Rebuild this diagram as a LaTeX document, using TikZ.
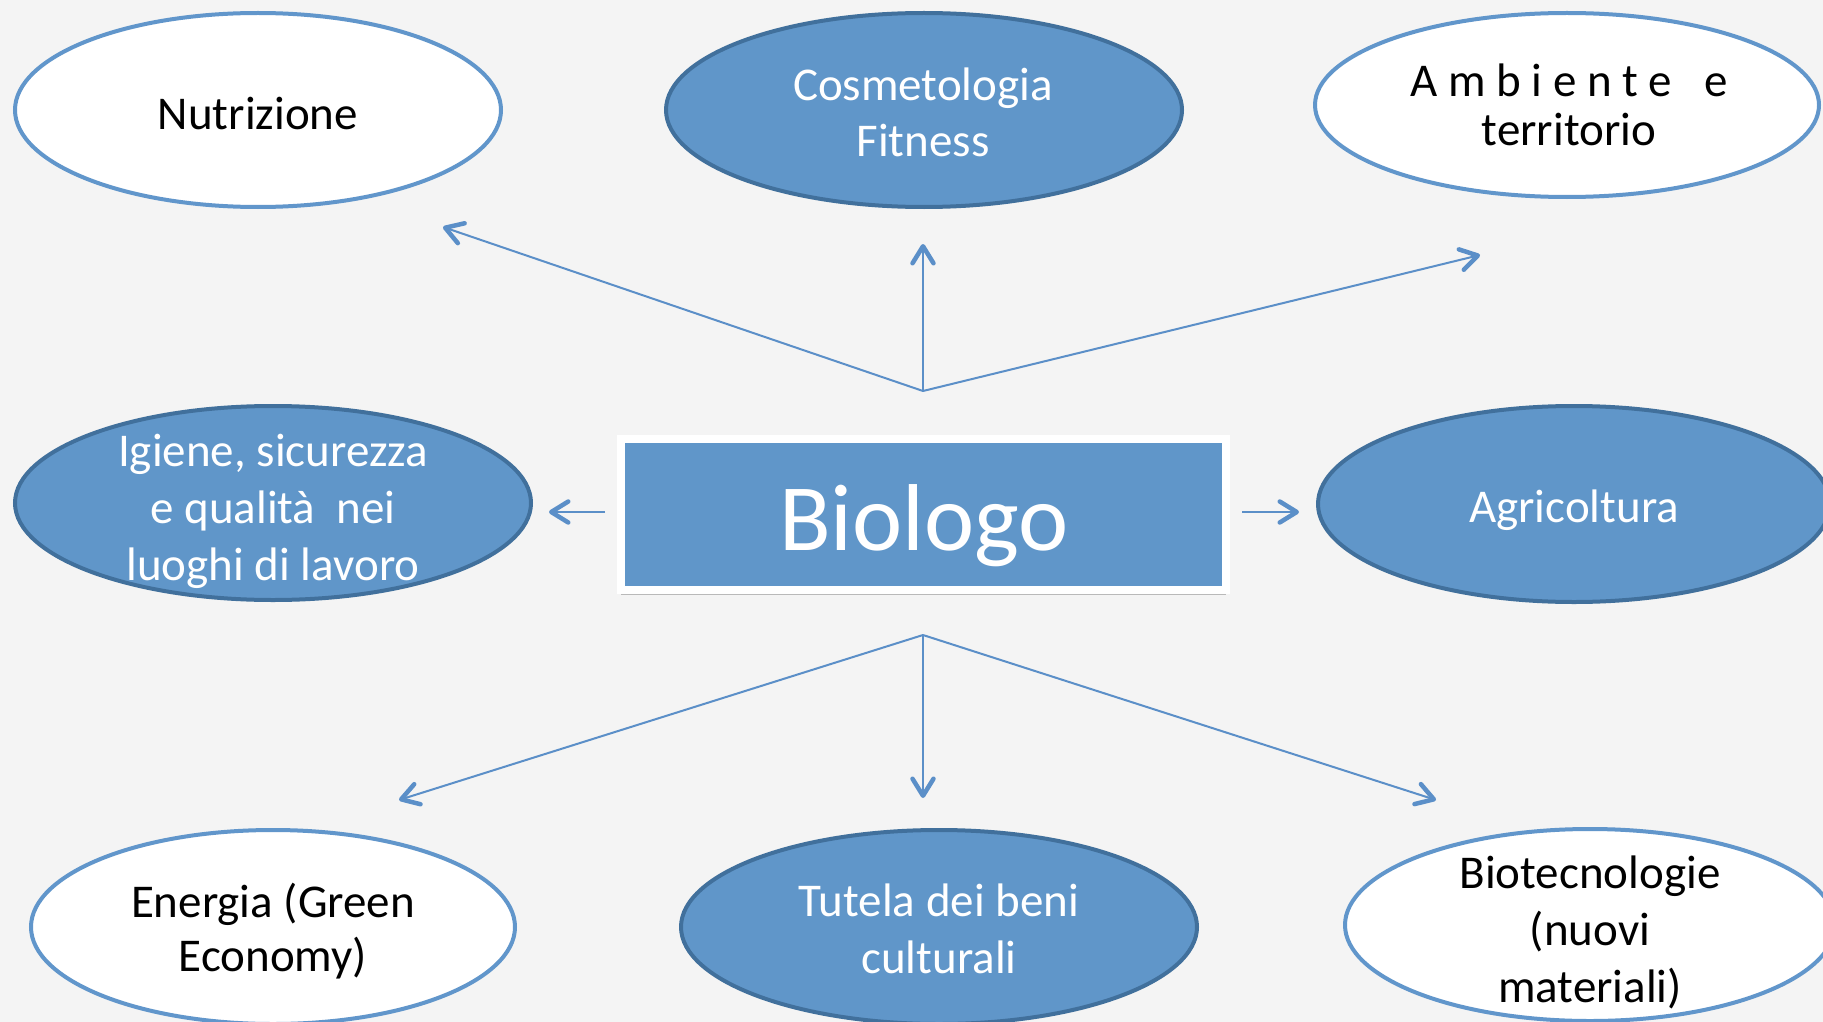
\documentclass[tikz,border=0pt]{standalone}
\usepackage{fontspec}
\setmainfont{Carlito}
\usetikzlibrary{shapes.geometric,arrows.meta,shadows}
\definecolor{bg}{HTML}{F4F4F4}
\definecolor{bluefill}{HTML}{6096C9}
\definecolor{darkedge}{HTML}{41709C}
\definecolor{lightedge}{HTML}{6196CB}
\definecolor{arrowc}{HTML}{5B8FC8}
\begin{document}
\begin{tikzpicture}[x=1pt,y=-1pt,
  ell/.style={ellipse, inner sep=0pt},
  lightell/.style={ell, draw=lightedge, line width=4pt, fill=white},
  darkell/.style={ell, draw=darkedge, line width=4pt, fill=bluefill},
  txt/.style={align=center, inner sep=0pt, font=\fontsize{47}{56}\selectfont},
  wtxt/.style={txt, text=white},
  btxt/.style={txt, text=black},
  arr/.style={draw=arrowc, line width=2pt, -{Straight Barb[length=17pt,width=21pt,line width=4.5pt,round]}},
  hubbox/.style={rectangle, fill=bluefill, draw=white, line width=8pt, minimum width=605pt, minimum height=151pt, inner sep=0pt,
     drop shadow={shadow xshift=0pt, shadow yshift=-5pt, opacity=0.45, fill=black!55}}
]
\useasboundingbox[fill=bg] (0,0) rectangle (1823,1022);

% ellipses
\node[lightell, minimum width=486pt, minimum height=194pt] (nutr) at (258,110) {};
\node[darkell,  minimum width=516pt, minimum height=194pt] (cosm) at (924,110) {};
\node[lightell, minimum width=504pt, minimum height=184pt] (amb) at (1567,105) {};
\node[darkell,  minimum width=516pt, minimum height=194pt] (igi) at (273,503) {};
\node[darkell,  minimum width=512pt, minimum height=196pt] (agri) at (1574,504) {};
\node[lightell, minimum width=484pt, minimum height=194pt] (ene) at (273,927) {};
\node[darkell,  minimum width=516pt, minimum height=194pt] (tut) at (939,927) {};
\node[lightell, minimum width=490pt, minimum height=192pt] (bio) at (1590,925) {};

% texts
\node[btxt] (tnutr) at (258,114) {Nutrizione};
\node[wtxt, font=\fontsize{47}{56}\selectfont] (tcosm) at (923,112) {Cosmetologia\\Fitness};
\node[btxt, font=\fontsize{47}{49}\selectfont] (tamb) at (1569,105) {A m b i e n t e\hspace{32pt}e\\territorio};
\node[wtxt, font=\fontsize{47}{57}\selectfont] (tigi) at (273,511) {Igiene, sicurezza\\e qualità\ \ nei\\luoghi di lavoro};
\node[wtxt] (tagri) at (1574,510) {Agricoltura};
\node[btxt, font=\fontsize{47}{54}\selectfont] (tene) at (273,931) {Energia (Green\\Economy)};
\node[wtxt, font=\fontsize{47}{57}\selectfont] (ttut) at (939,929) {Tutela dei beni\\culturali};
\node[btxt, font=\fontsize{47}{57}\selectfont] (tbio) at (1590,932) {Biotecnologie\\(nuovi\\materiali)};

% central box
\node[hubbox] (biologo) at (923,514) {};
\node[wtxt, font=\fontsize{95}{100}\selectfont] (tbiologo) at (924,526) {Biologo};

% connector points
\coordinate (hubT) at (923,391);
\coordinate (hubB) at (923,635);
\coordinate (endN) at (443,227);
\coordinate (endC) at (923,244);
\coordinate (endA) at (1480,255);
\coordinate (endE) at (399,800);
\coordinate (endT) at (923,798);
\coordinate (endB) at (1436,800);
\coordinate (startL) at (605,512);
\coordinate (endL) at (549,512);
\coordinate (startR) at (1242,512);
\coordinate (endR) at (1299,512);

\draw[arr] (hubT) -- (endN);
\draw[arr] (hubT) -- (endC);
\draw[arr] (hubT) -- (endA);
\draw[arr] (hubB) -- (endE);
\draw[arr] (hubB) -- (endT);
\draw[arr] (hubB) -- (endB);
\draw[arr] (startL) -- (endL);
\draw[arr] (startR) -- (endR);
\end{tikzpicture}
\end{document}
